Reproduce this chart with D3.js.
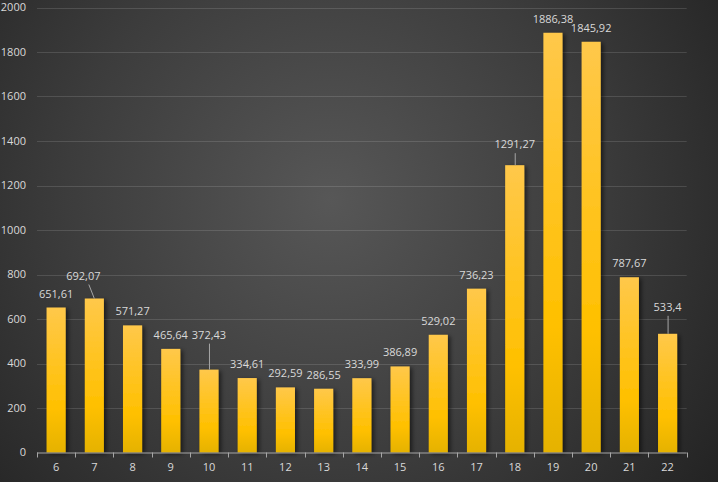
<!DOCTYPE html>
<html>
<head>
<meta charset="utf-8">
<script src="https://cdn.jsdelivr.net/npm/d3@7"></script>
<style>
  html, body { margin: 0; padding: 0; background: #2a2a2a; }
  svg { display: block; }
</style>
</head>
<body>
<svg id="chart" width="718" height="482"></svg>
<script>
// ---- data ----
const categories = ["6","7","8","9","10","11","12","13","14","15","16","17","18","19","20","21","22"];
const values = [651.61, 692.07, 571.27, 465.64, 372.43, 334.61, 292.59, 286.55, 333.99, 386.89, 529.02, 736.23, 1291.27, 1886.38, 1845.92, 787.67, 533.4];
const valueLabels = ["651,61","692,07","571,27","465,64","372,43","334,61","292,59","286,55","333,99","386,89","529,02","736,23","1291,27","1886,38","1845,92","787,67","533,4"];
const yTicks = [0, 200, 400, 600, 800, 1000, 1200, 1400, 1600, 1800, 2000];

// ---- layout ----
const W = 718, H = 482;
const plotLeft = 37, plotRight = 686.7, plotTop = 7.5, plotBottom = 452.5;
const font = "'Open Sans', 'Liberation Sans', sans-serif";
// label displacements for labels moved off their bars (with leader lines)
const labelMove = { "7": [-11, -19], "10": [0, -31], "18": [0, -17], "22": [0, -23] };

const svg = d3.select("#chart");
const defs = svg.append("defs");

const bg = defs.append("radialGradient").attr("id", "bg")
  .attr("gradientUnits", "userSpaceOnUse")
  .attr("cx", 330).attr("cy", 200).attr("r", 480);
bg.append("stop").attr("offset", "0%").attr("stop-color", "#575757");
bg.append("stop").attr("offset", "55%").attr("stop-color", "#3c3c3c");
bg.append("stop").attr("offset", "100%").attr("stop-color", "#232323");

const bar = defs.append("linearGradient").attr("id", "bar")
  .attr("x1", 0).attr("y1", 0).attr("x2", 0).attr("y2", 1);
bar.append("stop").attr("offset", "0%").attr("stop-color", "#ffc84a");
bar.append("stop").attr("offset", "70%").attr("stop-color", "#ffc000");
bar.append("stop").attr("offset", "100%").attr("stop-color", "#e5b200");

const sh = defs.append("filter").attr("id", "shadow")
  .attr("x", "-30%").attr("y", "-10%").attr("width", "170%").attr("height", "120%");
sh.append("feDropShadow").attr("dx", 2.5).attr("dy", 1.5).attr("stdDeviation", 2)
  .attr("flood-color", "#000").attr("flood-opacity", 0.55);

svg.append("rect").attr("width", W).attr("height", H).attr("fill", "url(#bg)");

const x = d3.scaleBand().domain(categories).range([plotLeft, plotRight])
  .paddingInner(0.5).paddingOuter(0.25);
const y = d3.scaleLinear().domain([0, 2000]).range([plotBottom, plotTop]);

// grid
svg.append("g").selectAll("line").data(yTicks.filter(d => d > 0)).join("line")
  .attr("x1", plotLeft).attr("x2", plotRight)
  .attr("y1", d => Math.round(y(d)) + 0.5).attr("y2", d => Math.round(y(d)) + 0.5)
  .attr("stroke", "rgba(255,255,255,0.13)").attr("stroke-width", 1);

// y labels
svg.append("g").selectAll("text").data(yTicks).join("text")
  .attr("x", 26).attr("y", d => y(d)).attr("dy", "0.35em")
  .attr("text-anchor", "end")
  .attr("font-family", font).attr("font-size", 11).attr("fill", "#d9d9d9")
  .text(d => d);

// bars
const data = categories.map((c, i) => ({ c, v: values[i], t: valueLabels[i] }));
svg.append("g").attr("filter", "url(#shadow)")
  .selectAll("rect").data(data).join("rect")
  .attr("x", d => x(d.c)).attr("width", x.bandwidth())
  .attr("y", d => y(d.v)).attr("height", d => y(0) - y(d.v))
  .attr("fill", "url(#bar)");

// x axis
const xAxis = d3.axisBottom(x).tickSize(0).tickPadding(10);
const ax = svg.append("g").attr("transform", `translate(0,${plotBottom + 0.5})`).call(xAxis);
ax.select(".domain").remove();
ax.selectAll("text").attr("font-family", font).attr("font-size", 11).attr("fill", "#d9d9d9");
const bounds = [plotLeft, ...categories.map(c => x(c) + x.step() * 0.75)];
const axg = svg.append("g");
axg.append("line").attr("x1", plotLeft).attr("x2", plotRight)
  .attr("y1", plotBottom + 0.5).attr("y2", plotBottom + 0.5)
  .attr("stroke", "#a6a6a6").attr("stroke-width", 1);
axg.selectAll("line.t").data(bounds).join("line").attr("class", "t")
  .attr("x1", d => Math.round(d) + 0.5).attr("x2", d => Math.round(d) + 0.5)
  .attr("y1", plotBottom).attr("y2", plotBottom + 5)
  .attr("stroke", "#a6a6a6").attr("stroke-width", 1);

// value labels
const lg = svg.append("g");
data.forEach(d => {
  const cx = x(d.c) + x.bandwidth() / 2;
  const topY = y(d.v);
  const mv = labelMove[d.c];
  const dx = mv ? mv[0] : 0, dy = mv ? mv[1] : -10;
  lg.append("text").attr("x", cx + dx).attr("y", topY + dy)
    .attr("text-anchor", "middle")
    .attr("font-family", font).attr("font-size", 11).attr("fill", "#d9d9d9")
    .text(d.t);
  if (mv) {
    lg.append("line")
      .attr("x1", cx + dx * 0.5 + (dx ? 0 : 0.5)).attr("y1", topY + dy + 5)
      .attr("x2", cx + (dx ? 0 : 0.5)).attr("y2", topY)
      .attr("stroke", "#a6a6a6").attr("stroke-width", 1);
  }
});
</script>
</body>
</html>
